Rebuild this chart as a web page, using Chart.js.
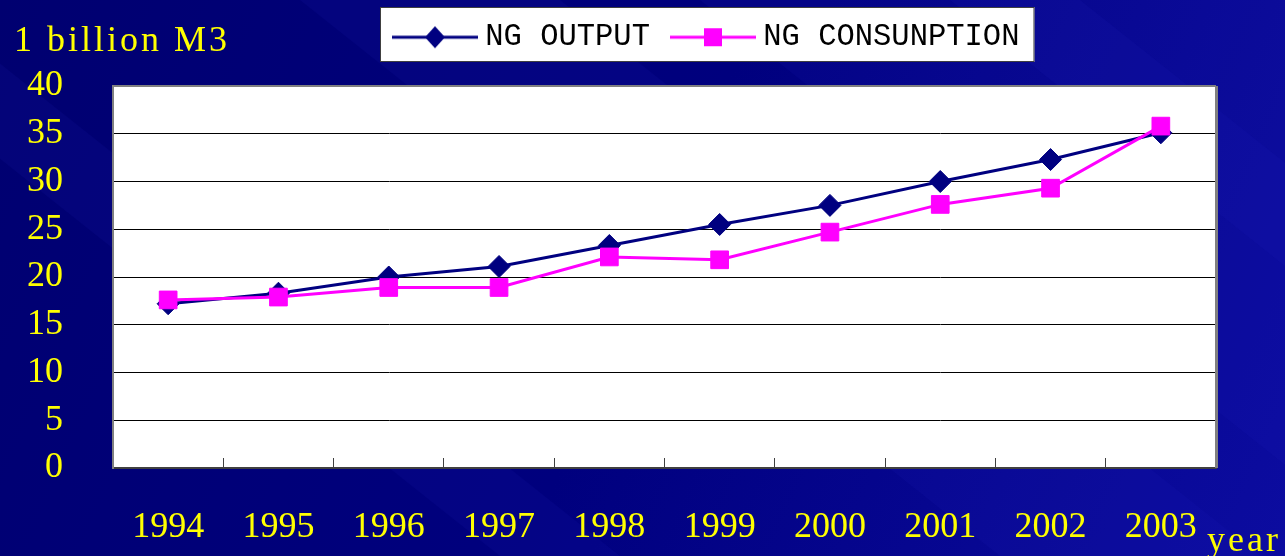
<!DOCTYPE html>
<html lang="en">
<head>
  <meta charset="UTF-8">
  <title>NG Output and Consumption</title>
  <script src="https://cdn.jsdelivr.net/npm/chart.js"></script>
  <style>
    body {
      margin: 0;
      padding: 0;
      background-color: #00007a;
      overflow: hidden;
    }
    #wrap {
      width: 1285px;
      height: 556px;
    }
  </style>
</head>
<body>
  <div id="wrap">
    <canvas id="ngChart" width="1285" height="556"></canvas>
  </div>

  <script>
    // Data
    const years = ["1994", "1995", "1996", "1997", "1998", "1999", "2000", "2001", "2002", "2003"];
    const ngOutput = [17.2, 18.3, 20.0, 21.1, 23.3, 25.5, 27.5, 30.0, 32.3, 35.1];
    const ngConsumption = [17.6, 17.9, 18.9, 18.9, 22.1, 21.8, 24.7, 27.6, 29.3, 35.8];
    const yMin = 0, yMax = 40, yStep = 5;
    const unitLabel = "1 billion M3";
    const axisLabel = "year";

    const NAVY = "#000080";
    const MAGENTA = "#ff00ff";
    const YELLOW = "#ffff00";

    // line + marker swatch for the legend
    function legendSwatch(color, shape) {
      const c = document.createElement("canvas");
      c.width = 86;
      c.height = 30;
      const g = c.getContext("2d");
      g.strokeStyle = color;
      g.lineWidth = 3;
      g.beginPath();
      g.moveTo(0, 15);
      g.lineTo(86, 15);
      g.stroke();
      g.fillStyle = color;
      g.beginPath();
      if (shape === "diamond") {
        g.moveTo(43, 4);
        g.lineTo(53, 15);
        g.lineTo(43, 26);
        g.lineTo(33, 15);
        g.closePath();
      } else {
        g.rect(34, 6, 18, 18);
      }
      g.fill();
      return c;
    }
    const swatches = [legendSwatch(NAVY, "diamond"), legendSwatch(MAGENTA, "square")];

    function legendStart(lg) {
      const pad = lg.options.labels.padding;
      return (lg.left + pad + lg.right - lg.lineWidths[0]) / 2;
    }

    const backdrop = {
      id: "backdrop",
      afterInit(chart) {
        const lg = chart.legend;
        const fit = lg.fit;
        lg.fit = function () {
          fit.call(this);
          this.height = 86;
        };
      },
      afterLayout(chart) {
        const lg = chart.legend;
        const dx = 400 - legendStart(lg);
        lg.left += dx;
        lg.right += dx;
        lg.top -= 6;
        lg.bottom -= 6;
      },
      beforeDraw(chart) {
        const { ctx, width, height, chartArea: a } = chart;
        ctx.save();
        // slide background
        const bg = ctx.createLinearGradient(0, 0, width, height);
        bg.addColorStop(0, "#000070");
        bg.addColorStop(0.5, "#00007e");
        bg.addColorStop(1, "#0c0ca0");
        ctx.fillStyle = bg;
        ctx.fillRect(0, 0, width, height);
        ctx.fillStyle = "rgba(40, 40, 200, 0.10)";
        [[-200, 120], [300, 260], [700, 380], [950, 460]].forEach(([x0, w]) => {
          ctx.beginPath();
          ctx.moveTo(x0, 0);
          ctx.lineTo(x0 + w, 0);
          ctx.lineTo(x0 + w + 700, height);
          ctx.lineTo(x0 + 700, height);
          ctx.closePath();
          ctx.fill();
        });

        // legend box
        const lg = chart.legend;
        const pad = lg.options.labels.padding;
        const start = legendStart(lg);
        const end = start + lg.lineWidths[0] - pad;
        ctx.fillStyle = "#ffffff";
        ctx.fillRect(start - 20, 7, end - start + 35, 55);
        ctx.strokeStyle = "#404040";
        ctx.lineWidth = 1;
        ctx.strokeRect(start - 19.5, 7.5, end - start + 34, 54);

        // plot area
        ctx.fillStyle = "#ffffff";
        ctx.fillRect(a.left, a.top, a.right - a.left, a.bottom - a.top);

        // unit and axis captions
        ctx.fillStyle = YELLOW;
        ctx.textBaseline = "alphabetic";
        ctx.font = "36px 'Liberation Serif'";
        ctx.letterSpacing = "3px";
        ctx.fillText(unitLabel, 14, 51);
        ctx.fillText(axisLabel, 1207, 551);
        ctx.restore();
      },
      beforeDatasetsDraw(chart) {
        const { ctx, chartArea: a } = chart;
        ctx.save();
        ctx.strokeStyle = "#808080";
        ctx.lineWidth = 2;
        ctx.beginPath();
        ctx.moveTo(a.left, a.top);
        ctx.lineTo(a.right, a.top);
        ctx.stroke();
        ctx.lineWidth = 3;
        ctx.beginPath();
        ctx.moveTo(a.right + 0.5, a.top);
        ctx.lineTo(a.right + 0.5, a.bottom);
        ctx.stroke();
        ctx.restore();
      }
    };

    new Chart(document.getElementById("ngChart"), {
      type: "line",
      data: {
        labels: years,
        datasets: [
          {
            label: "NG OUTPUT",
            data: ngOutput,
            borderColor: NAVY,
            backgroundColor: NAVY,
            borderWidth: 3,
            pointStyle: "rectRot",
            pointRadius: 11,
            pointHoverRadius: 11,
            pointBorderWidth: 1,
            order: 1
          },
          {
            label: "NG CONSUNPTION",
            data: ngConsumption,
            borderColor: MAGENTA,
            backgroundColor: MAGENTA,
            borderWidth: 3,
            pointStyle: "rect",
            pointRadius: 12.5,
            pointHoverRadius: 12.5,
            pointBorderWidth: 1,
            order: 0
          }
        ]
      },
      options: {
        responsive: false,
        animation: false,
        layout: { padding: { left: 0, right: 69, top: 0, bottom: 0 } },
        plugins: {
          tooltip: { enabled: false },
          legend: {
            position: "top",
            labels: {
              usePointStyle: true,
              pointStyleWidth: 70,
              padding: 28,
              color: "#000000",
              font: { family: "'Liberation Mono'", size: 30.5 },
              generateLabels(chart) {
                const items = Chart.defaults.plugins.legend.labels.generateLabels(chart);
                items.sort((p, q) => p.datasetIndex - q.datasetIndex);
                items.forEach(it => { it.pointStyle = swatches[it.datasetIndex]; });
                return items;
              }
            }
          }
        },
        scales: {
          x: {
            offset: true,
            afterFit(scale) { scale.height = 88; },
            border: { color: "#404040", width: 2 },
            grid: {
              offset: true,
              drawOnChartArea: false,
              drawTicks: true,
              tickLength: -10,
              color: "#404040",
              lineWidth: 1
            },
            ticks: {
              color: YELLOW,
              padding: 48,
              font: { family: "'Liberation Serif'", size: 36 },
              maxRotation: 0
            }
          },
          y: {
            min: yMin,
            max: yMax,
            afterFit(scale) { scale.width = 113; },
            border: { color: "#808080", width: 2 },
            grid: { color: "#000000", lineWidth: 1, drawTicks: false },
            ticks: {
              stepSize: yStep,
              color: YELLOW,
              padding: 50,
              font: { family: "'Liberation Serif'", size: 36 }
            }
          }
        }
      },
      plugins: [backdrop]
    });
  </script>
</body>
</html>
